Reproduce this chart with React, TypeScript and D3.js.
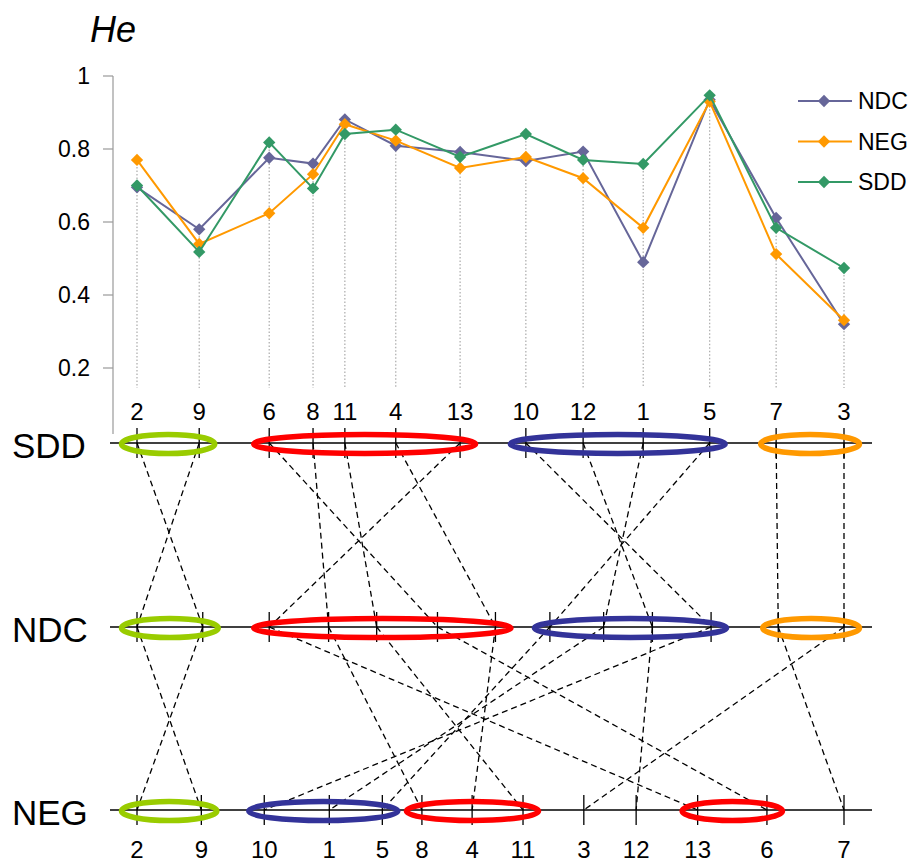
import React from "react";
import * as d3 from "d3";

// markers in SDD map order, with their SDD map positions (relative units)
const markers = ["2", "9", "6", "8", "11", "4", "13", "10", "12", "1", "5", "7", "3"];
const sddPos = [0, 8.8, 18.7, 24.9, 29.4, 36.6, 45.7, 55.0, 63.1, 71.6, 81.0, 90.4, 100];

// He values per marker (same order as markers)
const heNDC = [0.695, 0.58, 0.776, 0.76, 0.881, 0.809, 0.792, 0.767, 0.793, 0.49, 0.935, 0.611, 0.32];
const heNEG = [0.77, 0.54, 0.624, 0.731, 0.868, 0.823, 0.748, 0.778, 0.72, 0.584, 0.93, 0.512, 0.331];
const heSDD = [0.7, 0.518, 0.818, 0.692, 0.841, 0.853, 0.778, 0.841, 0.77, 0.759, 0.947, 0.584, 0.474];

// marker order / positions on the other two maps
const ndcOrder = ["9", "2", "13", "8", "11", "6", "4", "5", "1", "12", "10", "7", "3"];
const ndcPos = [0, 9.3, 18.7, 27.1, 33.9, 42.5, 50.7, 58.4, 66.0, 72.9, 81.2, 90.7, 100];
const negOrder = ["2", "9", "10", "1", "5", "8", "4", "11", "3", "12", "13", "6", "7"];
const negPos = [0, 9.1, 18.0, 27.2, 34.7, 40.3, 47.4, 54.6, 63.2, 70.6, 79.3, 89.1, 100];

// clusters drawn as ellipses on each map (first and last marker of each)
const sddClusters: [string, string[]][] = [["I", ["2", "9"]], ["II", ["6", "13"]], ["III", ["10", "5"]], ["IV", ["7", "3"]]];
const ndcClusters: [string, string[]][] = [["I", ["9", "2"]], ["II", ["13", "4"]], ["III", ["5", "10"]], ["IV", ["7", "3"]]];
const negClusters: [string, string[]][] = [["I", ["2", "9"]], ["III", ["10", "5"]], ["II", ["8", "11"]], ["II", ["13", "6"]]];

const yTicks = [0.2, 0.4, 0.6, 0.8, 1];

const clusterColor: Record<string, string> = { I: "#99CC00", II: "#FF0000", III: "#333399", IV: "#FF9900" };
const series = [
  { name: "NDC", values: heNDC, color: "#666699" },
  { name: "NEG", values: heNEG, color: "#FF9900" },
  { name: "SDD", values: heSDD, color: "#339966" },
];

const FONT = "'Liberation Sans', Arial, sans-serif";
const rowY = { SDD: 443, NDC: 627, NEG: 810 };

export default function App() {
  const x = d3.scaleLinear().domain([0, 100]).range([137, 844]);
  const y = d3.scaleLinear().domain([0, 1]).range([441, 76]);

  const sddX = new Map(markers.map((m, i) => [m, x(sddPos[i])]));
  const ndcX = new Map(ndcOrder.map((m, i) => [m, x(ndcPos[i])]));
  const negX = new Map(negOrder.map((m, i) => [m, x(negPos[i])]));

  const line = d3
    .line<number>()
    .x((_, i) => x(sddPos[i]))
    .y((v) => y(v));
  const diamond = d3.symbol(d3.symbolSquare, 76)();

  const maps: { name: keyof typeof rowY; pos: Map<string, number>; clusters: [string, string[]][] }[] = [
    { name: "SDD", pos: sddX, clusters: sddClusters },
    { name: "NDC", pos: ndcX, clusters: ndcClusters },
    { name: "NEG", pos: negX, clusters: negClusters },
  ];

  return (
    <svg width={909} height={862} style={{ position: "absolute", left: 0, top: 0, background: "#fff" }} fontFamily={FONT}>
      {/* He chart */}
      <text x={90} y={42} fontSize={36} fontStyle="italic">He</text>
      <line x1={113} x2={113} y1={y(1)} y2={434} stroke="#999" strokeWidth={1.2} />
      {yTicks.map((t) => (
        <g key={t}>
          <line x1={103} x2={113} y1={y(t)} y2={y(t)} stroke="#999" strokeWidth={1.2} />
          <text x={90} y={y(t) + 8} fontSize={23} textAnchor="end">{t}</text>
        </g>
      ))}
      {markers.map((m, i) => {
        const top = Math.max(heNDC[i], heNEG[i], heSDD[i]);
        return (
          <line key={m} x1={x(sddPos[i])} x2={x(sddPos[i])} y1={y(top)} y2={388}
            stroke="#aaa" strokeWidth={1.2} strokeDasharray="1.5 2" />
        );
      })}
      {series.map((s) => (
        <g key={s.name}>
          <path d={line(s.values) || ""} fill="none" stroke={s.color} strokeWidth={2} />
          {s.values.map((v, i) => (
            <path key={i} d={diamond} transform={`translate(${x(sddPos[i])},${y(v)}) rotate(45)`} fill={s.color} />
          ))}
        </g>
      ))}
      {markers.map((m, i) => (
        <text key={m} x={x(sddPos[i])} y={420} fontSize={24} textAnchor="middle">{m}</text>
      ))}
      {/* legend */}
      {series.map((s, i) => (
        <g key={s.name} transform={`translate(798,${101 + i * 40.5})`}>
          <line x1={0} x2={54} stroke={s.color} strokeWidth={2} />
          <path d={diamond} transform="translate(26,0) rotate(45)" fill={s.color} />
          <text x={60} y={8} fontSize={23}>{s.name}</text>
        </g>
      ))}

      {/* linkage maps */}
      {maps.map((mp) => {
        const yy = rowY[mp.name];
        return (
          <g key={mp.name}>
            <text x={12} y={yy + 15} fontSize={35}>{mp.name}</text>
            <line x1={110} x2={872} y1={yy} y2={yy} stroke="#000" strokeWidth={1.5} />
            {[...mp.pos.values()].map((px, i) => (
              <line key={i} x1={px} x2={px} y1={yy - 15} y2={yy + 15} stroke="#000" strokeWidth={1.3} />
            ))}
          </g>
        );
      })}
      {markers.map((m) => (
        <g key={m} stroke="#000" strokeWidth={1.3} strokeDasharray="6 4" fill="none">
          <line x1={sddX.get(m)} y1={rowY.SDD} x2={ndcX.get(m)} y2={rowY.NDC} />
          <line x1={ndcX.get(m)} y1={rowY.NDC} x2={negX.get(m)} y2={rowY.NEG} />
        </g>
      ))}
      {maps.map((mp) =>
        mp.clusters.map(([g, [a, b]], i) => {
          const x0 = mp.pos.get(a)!;
          const x1 = mp.pos.get(b)!;
          return (
            <ellipse key={mp.name + i} cx={(x0 + x1) / 2} cy={rowY[mp.name] + 1} rx={(x1 - x0) / 2 + 15.5}
              ry={9.5} fill="none" stroke={clusterColor[g]} strokeWidth={5.5} />
          );
        })
      )}
      {negOrder.map((m) => (
        <text key={m} x={negX.get(m)} y={858} fontSize={24} textAnchor="middle">{m}</text>
      ))}
    </svg>
  );
}
